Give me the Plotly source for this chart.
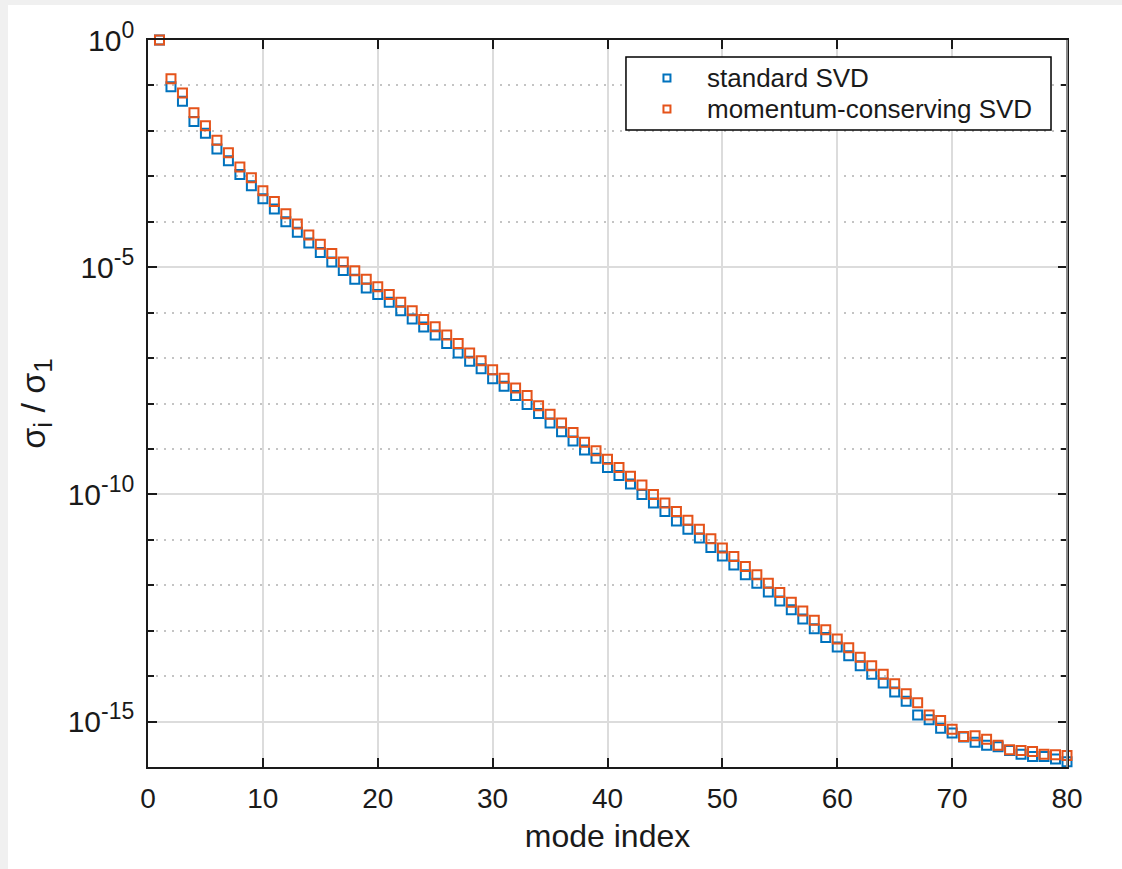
import plotly.graph_objects as go

# mode index 1..80
modes = list(range(1, 81))

# normalised singular values sigma_i / sigma_1, standard SVD
standard_svd = [
    1.0, 9.3e-2, 4.5e-2, 1.6e-2, 8.9e-3, 4.0e-3, 2.2e-3, 1.1e-3, 6.2e-4, 3.2e-4,
    1.9e-4, 1.0e-4, 5.9e-5, 3.4e-5, 2.1e-5, 1.3e-5, 8.5e-6, 5.4e-6, 3.5e-6, 2.5e-6,
    1.7e-6, 1.1e-6, 7.2e-7, 4.8e-7, 3.2e-7, 2.1e-7, 1.3e-7, 8.5e-8, 5.8e-8, 3.5e-8,
    2.4e-8, 1.5e-8, 9.5e-9, 6.0e-9, 3.7e-9, 2.4e-9, 1.5e-9, 9.5e-10, 6.2e-10, 3.9e-10,
    2.6e-10, 1.7e-10, 1.0e-10, 6.5e-11, 4.2e-11, 2.6e-11, 1.7e-11, 1.1e-11, 6.8e-12, 4.4e-12,
    2.8e-12, 1.7e-12, 1.1e-12, 7.1e-13, 4.5e-13, 2.9e-13, 1.8e-13, 1.1e-13, 7.1e-14, 4.4e-14,
    2.8e-14, 1.7e-14, 1.1e-14, 7.1e-15, 4.5e-15, 2.8e-15, 1.4e-15, 1.1e-15, 7.1e-16, 5.6e-16,
    4.6e-16, 3.5e-16, 3.0e-16, 2.8e-16, 2.3e-16, 1.9e-16, 1.7e-16, 1.7e-16, 1.5e-16, 1.3e-16,
]

# normalised singular values sigma_i / sigma_1, momentum-conserving SVD
momentum_svd = [
    1.0, 1.4e-1, 6.8e-2, 2.5e-2, 1.3e-2, 6.2e-3, 3.3e-3, 1.6e-3, 9.3e-4, 4.8e-4,
    2.8e-4, 1.5e-4, 8.9e-5, 5.1e-5, 3.2e-5, 2.0e-5, 1.3e-5, 8.3e-6, 5.4e-6, 3.7e-6,
    2.5e-6, 1.7e-6, 1.1e-6, 7.1e-7, 4.9e-7, 3.2e-7, 2.1e-7, 1.3e-7, 8.7e-8, 5.5e-8,
    3.6e-8, 2.2e-8, 1.5e-8, 8.9e-9, 5.8e-9, 3.7e-9, 2.3e-9, 1.4e-9, 9.1e-10, 5.9e-10,
    3.9e-10, 2.5e-10, 1.6e-10, 1.0e-10, 6.5e-11, 4.2e-11, 2.7e-11, 1.7e-11, 1.05e-11, 6.6e-12,
    4.3e-12, 2.6e-12, 1.7e-12, 1.1e-12, 6.9e-13, 4.2e-13, 2.7e-13, 1.7e-13, 1.05e-13, 6.6e-14,
    4.2e-14, 2.6e-14, 1.7e-14, 1.1e-14, 6.8e-15, 4.1e-15, 2.6e-15, 1.4e-15, 1.05e-15, 6.8e-16,
    4.7e-16, 4.9e-16, 4.1e-16, 3.0e-16, 2.4e-16, 2.3e-16, 2.2e-16, 1.9e-16, 1.86e-16, 1.8e-16,
]

series_names = ["standard SVD", "momentum-conserving SVD"]
series_colors = ["#0072BD", "#E5531A"]

x_ticks = [0, 10, 20, 30, 40, 50, 60, 70, 80]
y_major = [1.0, 1e-5, 1e-10, 1e-15]
y_exponents = ["0", "-5", "-10", "-15"]
y_minor = [10.0 ** -k for k in range(0, 17)]

FONT = "Liberation Sans, Arial, Helvetica, sans-serif"
INK = "#1a1a1a"
GRID = "#dcdcdc"


def sup(base, exp, size):
    return f"{base}<sup><span style='font-size:{size}px'>{exp}</span></sup>"


def sub(text, size):
    return f"<sub><span style='font-size:{size}px'>{text}</span></sub>"


y_major_text = [sup("10", e, 23) for e in y_exponents]
y_title = f"σ{sub('i', 26)} / σ{sub('1', 26)}"

fig = go.Figure()

for name, vals, col in zip(series_names, [standard_svd, momentum_svd], series_colors):
    fig.add_trace(go.Scatter(
        x=modes, y=vals, mode="markers", name=name, showlegend=False,
        cliponaxis=False,
        marker=dict(symbol="square-open", size=9, color=col, line=dict(width=2, color=col)),
    ))

# white figure panel over the grey window background
fig.add_shape(type="rect", xref="paper", yref="paper",
              x0=-0.1523, x1=1.07, y0=-0.15, y1=1.048,
              fillcolor="white", line=dict(width=0), layer="below")
# right-hand box edge in grey
fig.add_shape(type="line", xref="paper", yref="paper",
              x0=1, x1=1, y0=0, y1=1,
              line=dict(color="#8a8a8a", width=2), layer="above")

# legend box drawn in paper coordinates (compact rows)
LEG_X0, LEG_X1, LEG_Y0, LEG_Y1 = 0.5201, 0.9826, 0.8762, 0.9766
LEG_MARK_X, LEG_TEXT_X = 0.5647, 0.6061
LEG_ROWS = [0.9477, 0.9051]
fig.add_shape(type="rect", xref="paper", yref="paper",
              x0=LEG_X0, x1=LEG_X1, y0=LEG_Y0, y1=LEG_Y1,
              fillcolor="white", line=dict(color="#000000", width=1.5), layer="above")
for name, col, ry in zip(series_names, series_colors, LEG_ROWS):
    fig.add_shape(type="rect", xref="paper", yref="paper",
                  xsizemode="pixel", ysizemode="pixel",
                  xanchor=LEG_MARK_X, yanchor=ry, x0=-3.5, x1=3.5, y0=-3.5, y1=3.5,
                  line=dict(color=col, width=2), fillcolor="rgba(0,0,0,0)", layer="above")
    fig.add_annotation(xref="paper", yref="paper", x=LEG_TEXT_X, y=ry,
                       xanchor="left", yanchor="middle", showarrow=False,
                       text=name, font=dict(size=26, family=FONT, color=INK))

fig.update_layout(
    width=1122, height=869, autosize=False,
    margin=dict(l=148, r=55, t=40, b=102, pad=0),
    paper_bgcolor="#f0f0f0", plot_bgcolor="white",
    font=dict(family=FONT, color=INK),
    showlegend=False,
)

fig.update_xaxes(
    range=[0, 80], tickmode="array", tickvals=x_ticks,
    showgrid=True, gridcolor=GRID, gridwidth=1.5,
    showline=True, linecolor=INK, linewidth=1.5, mirror="ticks",
    ticks="inside", ticklen=9, tickwidth=1.5, tickcolor=INK,
    tickfont=dict(size=28, family=FONT, color=INK),
    ticklabelstandoff=6,
    zeroline=False,
    title=dict(text="mode index", font=dict(size=32, family=FONT, color=INK), standoff=11),
)

fig.update_yaxes(
    type="log", range=[-16, 0],
    tickmode="array", tickvals=y_major, ticktext=y_major_text,
    showgrid=True, gridcolor=GRID, gridwidth=1.5,
    showline=True, linecolor=INK, linewidth=1.5, mirror="ticks",
    ticks="inside", ticklen=9, tickwidth=1.5, tickcolor=INK,
    tickfont=dict(size=30, family=FONT, color=INK),
    ticklabelstandoff=6,
    zeroline=False,
    minor=dict(tickmode="array", tickvals=y_minor, ticks="inside", ticklen=6,
               tickwidth=1.5, tickcolor=INK,
               showgrid=True, gridcolor="#c4c4c4", gridwidth=1.5, griddash="2px,6px"),
    title=dict(text=y_title, font=dict(size=34, family=FONT, color=INK), standoff=12),
)

fig.write_html("out.html")
